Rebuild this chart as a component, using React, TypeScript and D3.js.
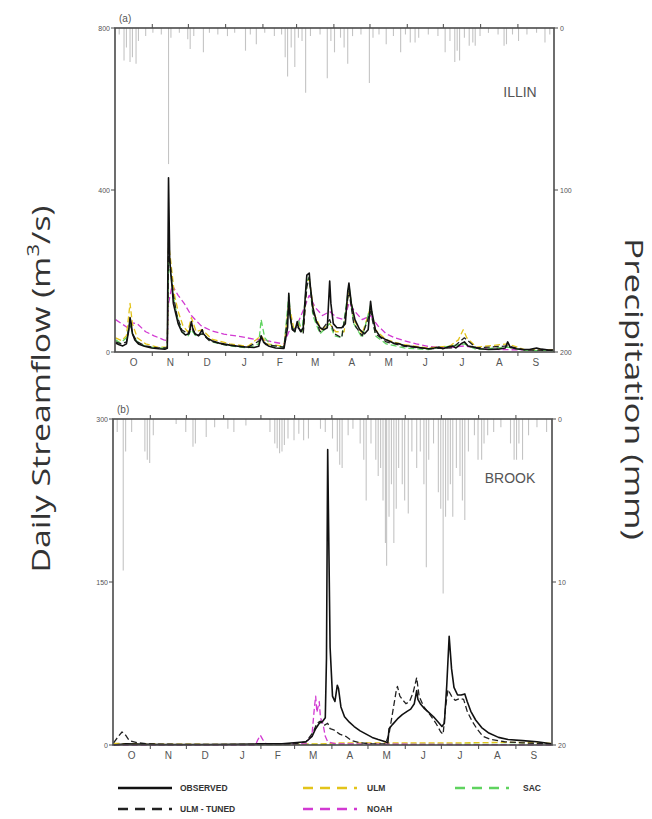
import React from "react";
import * as d3 from "d3";

// ---------- DATA ----------
const monthLabels = ["O", "N", "D", "J", "F", "M", "A", "M", "J", "J", "A", "S"];
const monthStarts = [0, 31, 61, 92, 123, 151, 182, 212, 243, 273, 304, 335, 365];

const illinFlowTicks = [0, 400, 800];
const illinPrecipTicks = [0, 100, 200];
const brookFlowTicks = [0, 150, 300];
const brookPrecipTicks = [0, 10, 20];

// precipitation [day, mm]
const illinPrecip: [number, number][] = [
  [3, 4], [7, 20], [9, 12], [12, 21], [14, 18], [17, 22], [19, 8], [25, 5], [31, 3], [38, 4],
  [44, 84], [46, 6], [53, 3], [60, 7], [62, 13], [65, 5], [73, 15], [78, 3], [85, 4], [93, 5],
  [99, 3], [108, 14], [112, 4], [117, 10], [124, 3], [132, 5], [138, 4], [141, 18], [143, 30],
  [146, 12], [149, 24], [152, 6], [155, 8], [158, 40], [162, 5], [170, 4], [176, 31], [179, 8],
  [182, 15], [187, 6], [190, 12], [193, 22], [197, 5], [204, 4], [211, 34], [214, 6], [219, 4],
  [225, 10], [231, 5], [237, 15], [241, 4], [245, 9], [249, 9], [252, 6], [260, 4], [268, 5],
  [274, 15], [278, 8], [282, 21], [284, 14], [286, 20], [290, 6], [294, 11], [297, 9], [299, 11],
  [303, 5], [310, 3], [318, 4], [323, 11], [325, 10], [330, 4], [335, 8], [342, 4], [350, 3],
  [357, 9], [361, 4],
];

const brookPrecip: [number, number][] = [
  [3, 0.8], [8, 9.3], [10, 2], [15, 0.8], [26, 2], [28, 2.5], [30, 2.7], [33, 1], [52, 0.3],
  [60, 0.8], [66, 1.7], [68, 1.5], [77, 1.1], [84, 0.5], [95, 0.6], [100, 0.8], [110, 0.4],
  [130, 0.8], [134, 1.5], [136, 1.8], [138, 2.1], [140, 2], [142, 1.6], [145, 1.2], [150, 1.3],
  [154, 0.9], [158, 1.3], [162, 1.2], [172, 0.6], [176, 0.8], [182, 1.2], [186, 2], [188, 2.8],
  [190, 3], [195, 1], [199, 0.6], [205, 1.5], [208, 2.5], [210, 5], [214, 1.5], [218, 2.5],
  [220, 3.5], [222, 3], [224, 5], [226, 7.6], [227, 9], [229, 6], [231, 4], [233, 7.6],
  [235, 5.5], [237, 3], [240, 4], [242, 5], [245, 5.8], [248, 2], [252, 3], [255, 2], [258, 4],
  [260, 9.1], [262, 2.5], [266, 1.5], [270, 4.5], [272, 5.5], [274, 10.7], [276, 6], [278, 5],
  [280, 4], [282, 6], [285, 3], [288, 3.5], [290, 5], [292, 6.2], [295, 2], [300, 1], [303, 2.5],
  [306, 2.5], [308, 1.5], [311, 1], [316, 0.8], [322, 0.5], [330, 1.5], [333, 2.5], [335, 2.5],
  [337, 1.5], [340, 2.5], [345, 1], [352, 0.5], [360, 0.8],
];

// streamflow [day, m3/s]
const illinObserved: [number, number][] = [
  [0, 22], [3, 18], [6, 15], [9, 20], [11, 55], [12, 85], [13, 70], [14, 45], [16, 30], [19, 20],
  [24, 14], [30, 10], [36, 8], [41, 7], [43, 9], [44, 430], [45, 230], [46, 190], [47, 160],
  [48, 120], [50, 95], [52, 70], [55, 50], [58, 42], [61, 45], [63, 75], [64, 60], [66, 45],
  [69, 40], [72, 55], [73, 45], [76, 35], [80, 28], [86, 22], [95, 17], [105, 13], [115, 11],
  [119, 14], [121, 40], [123, 25], [127, 15], [133, 10], [140, 9], [143, 60], [144, 145],
  [145, 90], [147, 55], [149, 50], [151, 75], [152, 60], [154, 50], [156, 60], [158, 150],
  [159, 190], [161, 195], [162, 160], [164, 110], [167, 75], [170, 60], [173, 55], [176, 60],
  [178, 175], [179, 120], [181, 70], [184, 60], [188, 60], [191, 70], [193, 150], [194, 170],
  [196, 120], [199, 80], [203, 55], [207, 45], [210, 55], [212, 125], [213, 100], [216, 55],
  [220, 38], [225, 30], [231, 22], [236, 20], [240, 16], [245, 14], [250, 12], [255, 10],
  [260, 8], [265, 10], [269, 12], [272, 8], [276, 12], [280, 15], [283, 10], [288, 22],
  [290, 25], [293, 15], [298, 12], [303, 8], [310, 6], [318, 7], [324, 10], [326, 25], [328, 12],
  [333, 8], [338, 6], [344, 6], [350, 10], [354, 7], [360, 5], [364, 5],
];
const illinUlmTuned: [number, number][] = [
  [0, 25], [5, 20], [9, 25], [12, 75], [14, 45], [18, 25], [25, 15], [35, 10], [43, 10],
  [44, 250], [46, 200], [48, 140], [51, 90], [55, 55], [60, 45], [63, 60], [67, 40], [72, 45],
  [78, 28], [90, 18], [110, 12], [121, 30], [125, 18], [140, 12], [144, 110], [147, 55],
  [152, 60], [156, 45], [159, 160], [161, 185], [164, 100], [170, 50], [178, 80], [182, 45],
  [188, 35], [194, 150], [198, 70], [205, 40], [212, 100], [216, 45], [225, 25], [240, 14],
  [260, 8], [280, 10], [290, 35], [300, 10], [326, 15], [340, 5], [364, 4],
];
const illinUlm: [number, number][] = [
  [0, 35], [5, 28], [9, 40], [12, 120], [14, 70], [18, 35], [25, 20], [35, 12], [43, 12],
  [44, 270], [46, 220], [49, 140], [52, 100], [56, 65], [60, 50], [63, 85], [67, 50], [72, 55],
  [80, 32], [95, 20], [110, 14], [121, 40], [126, 20], [140, 14], [144, 120], [148, 60],
  [152, 70], [156, 50], [159, 170], [161, 180], [165, 95], [171, 55], [178, 70], [183, 50],
  [190, 50], [194, 160], [198, 80], [205, 45], [212, 110], [216, 55], [225, 30], [240, 18],
  [260, 10], [278, 15], [285, 30], [289, 55], [292, 35], [300, 12], [326, 20], [340, 6], [364, 5],
];
const illinNoah: [number, number][] = [
  [0, 80], [5, 70], [10, 60], [14, 72], [18, 70], [25, 50], [32, 40], [40, 30], [43, 28],
  [44, 120], [47, 165], [52, 140], [57, 120], [63, 90], [71, 65], [80, 52], [90, 44], [104, 38],
  [118, 30], [121, 32], [130, 25], [140, 20], [144, 50], [150, 60], [157, 110], [161, 140],
  [166, 110], [172, 90], [178, 100], [184, 85], [190, 80], [194, 120], [199, 100], [205, 80],
  [212, 90], [218, 65], [225, 45], [232, 35], [240, 28], [250, 20], [260, 14], [275, 10],
  [290, 15], [300, 9], [320, 6], [340, 5], [364, 4],
];
const illinSac: [number, number][] = [
  [0, 30], [4, 22], [9, 35], [12, 70], [14, 45], [18, 25], [25, 14], [35, 9], [43, 10],
  [44, 220], [46, 190], [48, 140], [51, 90], [55, 50], [60, 38], [63, 55], [67, 38], [72, 45],
  [80, 25], [95, 15], [110, 10], [119, 20], [121, 80], [124, 35], [130, 15], [140, 12],
  [144, 140], [146, 70], [149, 50], [152, 80], [155, 50], [159, 175], [161, 185], [164, 90],
  [170, 45], [178, 70], [182, 40], [188, 35], [194, 165], [198, 70], [205, 35], [212, 115],
  [216, 40], [225, 20], [240, 10], [260, 6], [290, 20], [300, 6], [326, 12], [340, 4], [364, 3],
];

const brookObserved: [number, number][] = [
  [0, 0], [10, 1], [40, 0.5], [80, 0.5], [120, 1], [140, 1], [150, 2], [160, 3], [165, 8],
  [168, 15], [171, 20], [174, 22], [176, 25], [177, 80], [178, 272], [179, 180], [180, 90],
  [182, 45], [184, 40], [186, 55], [187, 52], [189, 35], [192, 26], [196, 21], [200, 17],
  [205, 13], [210, 10], [215, 7], [220, 5], [226, 3], [228, 2], [229, 15], [232, 19], [236, 24],
  [240, 28], [244, 31], [247, 33], [250, 38], [252, 50], [253, 42], [255, 38], [258, 34],
  [262, 30], [266, 26], [270, 21], [273, 17], [275, 20], [277, 55], [279, 100], [281, 70],
  [283, 53], [286, 46], [289, 46], [292, 47], [294, 40], [297, 31], [301, 23], [306, 16],
  [312, 11], [320, 7], [328, 5], [340, 4], [352, 3], [364, 1],
];
const brookUlmTuned: [number, number][] = [
  [0, 2], [4, 8], [7, 12], [10, 9], [13, 4], [20, 2], [30, 1], [60, 0.5], [120, 0.5], [150, 1],
  [160, 3], [166, 12], [169, 20], [172, 22], [175, 18], [178, 20], [180, 15], [183, 14],
  [188, 10], [193, 8], [198, 4], [205, 2], [215, 1], [226, 1], [229, 10], [232, 30], [235, 50],
  [236, 54], [238, 45], [240, 42], [243, 38], [246, 40], [249, 48], [252, 62], [254, 45],
  [258, 35], [263, 28], [268, 20], [272, 12], [274, 10], [276, 35], [278, 51], [281, 45],
  [284, 41], [288, 43], [291, 42], [294, 31], [298, 22], [302, 15], [307, 8], [314, 5],
  [325, 3], [340, 2], [364, 1],
];
const brookUlm: [number, number][] = [
  [0, 1.5], [20, 1], [100, 0.5], [170, 1], [190, 2], [240, 2], [290, 2], [330, 2.5], [364, 1.5],
];
const brookNoah: [number, number][] = [
  [0, 0], [100, 0], [118, 0], [120, 5], [122, 9], [124, 5], [127, 1], [160, 1], [165, 10],
  [167, 35], [168, 45], [169, 30], [171, 40], [172, 25], [174, 20], [176, 8], [178, 3],
  [185, 1], [364, 0],
];
const brookSac: [number, number][] = [
  [0, 0.5], [60, 0.3], [150, 0.5], [200, 0.8], [260, 0.8], [320, 0.6], [364, 0.4],
];

// ---------- STYLES ----------
const COLORS = {
  observed: "#111111",
  ulmTuned: "#222222",
  ulm: "#e3c41a",
  noah: "#d23ad2",
  sac: "#5fd35f",
};
const FRAME = "#4a4a4a";
const TXT = "#555";
const SANS = "Liberation Sans, Arial, sans-serif";

type Series = { data: [number, number][]; color: string; dash?: string; width: number };

function Panel(props: {
  x0: number; x1: number; y0: number; y1: number;
  flowMax: number; flowTicks: number[];
  precipMax: number; precipTicks: number[];
  precip: [number, number][];
  series: Series[];
  tag: string; name: string; nameX: number; nameY: number;
}) {
  const { x0, x1, y0, y1 } = props;
  const x = d3.scaleLinear().domain([0, 365]).range([x0, x1]);
  const y = d3.scaleLinear().domain([0, props.flowMax]).range([y1, y0]);
  const p = d3.scaleLinear().domain([0, props.precipMax]).range([y0, y1]);
  const line = d3.line<[number, number]>().x((d) => x(d[0] + 0.5)).y((d) => y(d[1]));
  return (
    <g>
      {props.precip.map((d, i) => (
        <line key={"p" + i} x1={x(d[0] + 0.5)} x2={x(d[0] + 0.5)} y1={p(0)} y2={p(d[1])}
          stroke="#c4c4c4" strokeWidth={1.1} />
      ))}
      {props.series.map((s, i) => (
        <path key={"s" + i} d={line(s.data) || ""} fill="none" stroke={s.color}
          strokeWidth={s.width} strokeDasharray={s.dash} strokeLinejoin="round" />
      ))}
      <rect x={x0} y={y0} width={x1 - x0} height={y1 - y0} fill="none" stroke={FRAME} strokeWidth={1.6} />
      {monthStarts.slice(1, -1).map((m, i) => (
        <g key={"mt" + i}>
          <line x1={x(m)} x2={x(m)} y1={y1} y2={y1 + 4} stroke={FRAME} strokeWidth={1} />
          <line x1={x(m)} x2={x(m)} y1={y0} y2={y0 - 4} stroke={FRAME} strokeWidth={1} />
        </g>
      ))}
      {monthLabels.map((m, i) => (
        <text key={"ml" + i} x={x((monthStarts[i] + monthStarts[i + 1]) / 2)} y={y1 + 14}
          textAnchor="middle" fontSize={10} fontFamily={SANS} fill={TXT}>{m}</text>
      ))}
      {props.flowTicks.map((t, i) => (
        <g key={"ft" + i}>
          <line x1={x0 - 4} x2={x0} y1={y(t)} y2={y(t)} stroke={FRAME} strokeWidth={1} />
          <text x={x0 - 5} y={y(t) + 2.5} textAnchor="end" fontSize={7} fontFamily={SANS} fill={TXT}>{t}</text>
        </g>
      ))}
      {props.precipTicks.map((t, i) => (
        <g key={"pt" + i}>
          <line x1={x1} x2={x1 + 4} y1={p(t)} y2={p(t)} stroke={FRAME} strokeWidth={1} />
          <text x={x1 + 6} y={p(t) + 2.5} textAnchor="start" fontSize={7} fontFamily={SANS} fill={TXT}>{t}</text>
        </g>
      ))}
      <text x={x0 + 4} y={y0 - 6} fontSize={10} fontFamily={SANS} fill={TXT}>{props.tag}</text>
      <text x={props.nameX} y={props.nameY} textAnchor="middle" fontSize={14} fontFamily={SANS} fill={TXT}>{props.name}</text>
    </g>
  );
}

const legendItems = [
  { label: "OBSERVED", color: COLORS.observed, dash: undefined as string | undefined, col: 0, row: 0 },
  { label: "ULM - TUNED", color: COLORS.ulmTuned, dash: "10,7", col: 0, row: 1 },
  { label: "ULM", color: COLORS.ulm, dash: "10,7", col: 1, row: 0 },
  { label: "NOAH", color: COLORS.noah, dash: "10,7", col: 1, row: 1 },
  { label: "SAC", color: COLORS.sac, dash: "10,7", col: 2, row: 0 },
];
const legendColX = [118, 303, 455];
const legendTextX = [180, 367, 523];

export default function App() {
  const illinSeries: Series[] = [
    { data: illinNoah, color: COLORS.noah, dash: "6,3", width: 1.3 },
    { data: illinUlm, color: COLORS.ulm, dash: "6,3", width: 1.3 },
    { data: illinSac, color: COLORS.sac, dash: "6,3", width: 1.3 },
    { data: illinUlmTuned, color: COLORS.ulmTuned, dash: "6,3", width: 1.3 },
    { data: illinObserved, color: COLORS.observed, width: 1.6 },
  ];
  const brookSeries: Series[] = [
    { data: brookSac, color: COLORS.sac, dash: "6,3", width: 1.3 },
    { data: brookUlm, color: COLORS.ulm, dash: "6,3", width: 1.3 },
    { data: brookNoah, color: COLORS.noah, dash: "6,3", width: 1.3 },
    { data: brookUlmTuned, color: COLORS.ulmTuned, dash: "6,3", width: 1.3 },
    { data: brookObserved, color: COLORS.observed, width: 1.6 },
  ];
  return (
    <svg width={652} height={819} style={{ position: "absolute", left: 0, top: 0, background: "#fff" }}>
      <rect x={0} y={0} width={652} height={819} fill="#fff" />
      <Panel x0={115} x1={554} y0={28} y1={352} flowMax={800} flowTicks={illinFlowTicks}
        precipMax={200} precipTicks={illinPrecipTicks} precip={illinPrecip} series={illinSeries}
        tag="(a)" name="ILLIN" nameX={520} nameY={97} />
      <Panel x0={113} x1={552} y0={419} y1={745} flowMax={300} flowTicks={brookFlowTicks}
        precipMax={20} precipTicks={brookPrecipTicks} precip={brookPrecip} series={brookSeries}
        tag="(b)" name="BROOK" nameX={510} nameY={483} />
      <text transform="translate(50,389) rotate(-90) scale(1.3,1)" textAnchor="middle" fontSize={26}
        fontFamily="Open Sans, sans-serif" fill="#333">
        Daily Streamflow (m<tspan baselineShift="super" fontSize={17}>3</tspan>/s)
      </text>
      <text transform="translate(625,389) rotate(90) scale(1.35,1)" textAnchor="middle" fontSize={26}
        fontFamily="Open Sans, sans-serif" fill="#333">Precipitation (mm)</text>
      {legendItems.map((it, i) => (
        <g key={"lg" + i}>
          <line x1={legendColX[it.col]} x2={legendColX[it.col] + 54} y1={788 + it.row * 21}
            y2={788 + it.row * 21} stroke={it.color} strokeWidth={2.5} strokeDasharray={it.dash} />
          <text x={legendTextX[it.col]} y={791 + it.row * 21} fontSize={8.5} fontWeight="bold"
            fontFamily={SANS} fill="#333">{it.label}</text>
        </g>
      ))}
    </svg>
  );
}
